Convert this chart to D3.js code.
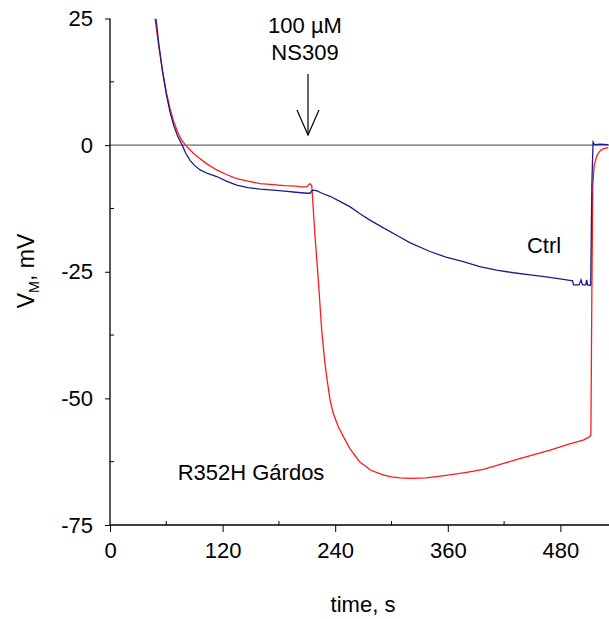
<!DOCTYPE html>
<html><head><meta charset="utf-8">
<script src="https://cdn.jsdelivr.net/npm/d3@7"></script>
<style>body{margin:0;background:#fff}svg{display:block}text{font-family:"Liberation Sans",Arial,sans-serif;fill:#000}</style>
</head><body>
<svg id="chart" width="609" height="619"></svg>
<script>
// Data
const xTicks = [0, 120, 240, 360, 480];
const xMinorTicks = [60, 180, 300, 420];
const yTicks = [25, 0, -25, -50, -75];
const yMinorTicks = [12.5, -12.5, -37.5, -62.5];

const ctrlTime = [49,52,56,60,64,68,72,77,81,85.3,90,96,104,113.7,124,135,147,160,174,186,198,210,213,216,220,226,234.5,245,256,266,277,290,305.5,320,341,358,376.5,394,412,430,447.6,465,483,490,493,494,500,502,503.5,507,508,509,511.5,512.3,513.5,514.8,516,518,522,531];
const ctrlV =    [25,20,14.5,10,6.5,3.8,1.8,0,-1.7,-3,-4,-4.9,-5.6,-6.2,-7.1,-7.9,-8.4,-8.7,-8.9,-9.1,-9.3,-9.5,-9.5,-8.9,-9.0,-9.5,-10.1,-11.1,-12.2,-13.5,-14.8,-16.2,-17.8,-19.3,-21,-22.1,-23,-24,-24.7,-25.2,-25.6,-26,-26.5,-26.7,-26.8,-27.6,-27.6,-26.6,-27.6,-27.6,-26.6,-27.6,-27.7,-27.5,-8,0.6,0.2,0.1,0.2,0.1];

const r352hTime = [48,52,56,60,64,68,72,76,80.5,88.8,96,104,113.7,124,135,147,160,174,186,198,206,210,213,215,218.5,222,225.6,229,231.5,234.5,238,243.3,248.6,256,266,278,291,300,309,320,337,350,362,380,398,415,433,450,469,490,505,510,512.5,513.5,514.5,516,519,522,526,531];
const r352hV =    [25,19.5,14.6,10.5,7.2,4.6,2.6,1.1,0,-1.6,-2.7,-3.8,-4.9,-5.8,-6.6,-7.1,-7.6,-7.8,-8,-8.1,-8.3,-8.2,-7.6,-8,-18,-26.6,-36.5,-43,-46.5,-50.3,-53,-55.6,-57.5,-60,-62.5,-64.2,-65.1,-65.5,-65.7,-65.8,-65.7,-65.4,-65.1,-64.6,-64,-63.1,-62.1,-61.2,-60.2,-59,-58.2,-57.7,-57.3,-30,-8,-4,-2,-1.2,-0.7,-0.5];

const xTitle = "time, s";
const ctrlLabel = "Ctrl";
const mutLabel = "R352H Gárdos";
const drugLine1 = "100 µM";
const drugLine2 = "NS309";
const drugTime = 211;

const svg = d3.select("#chart");
const mLeft = 110, mRight = 609, mTop = 18.5, mBottom = 525;
const x = d3.scaleLinear().domain([0, 531.8]).range([mLeft, mRight]);
const y = d3.scaleLinear().domain([-75, 25]).range([mBottom, mTop]);
const fs = 22;
const fmt = d => String(d).replace("\u2212", "-");

svg.append("defs").append("clipPath").attr("id","clip")
  .append("rect").attr("x", mLeft).attr("y", mTop).attr("width", mRight-mLeft).attr("height", mBottom-mTop);

// zero line
svg.append("line").attr("x1", x(0)).attr("x2", mRight).attr("y1", y(0)).attr("y2", y(0))
  .attr("stroke", "#666").attr("stroke-width", 1.2);

// x axis
const gx = svg.append("g").attr("transform", `translate(0,${mBottom})`);
gx.call(d3.axisBottom(x).tickValues(xTicks).tickSize(7).tickPadding(10).tickFormat(fmt));
gx.append("g").selectAll("line").data(xMinorTicks).join("line")
  .attr("x1", d=>x(d)).attr("x2", d=>x(d)).attr("y1", 0).attr("y2", -4).attr("stroke","#000");
// y axis
const gy = svg.append("g").attr("transform", `translate(${mLeft},0)`);
gy.call(d3.axisLeft(y).tickValues(yTicks).tickSize(5).tickPadding(12).tickFormat(fmt));
gy.append("g").selectAll("line").data(yMinorTicks).join("line")
  .attr("x1", 0).attr("x2", 4).attr("y1", d=>y(d)).attr("y2", d=>y(d)).attr("stroke","#000");
[gx, gy].forEach(g => {
  g.selectAll(".domain").attr("stroke", "#000").attr("stroke-width", 1.3);
  g.selectAll("text").attr("font-size", fs).attr("font-family", "Liberation Sans, Arial, sans-serif");
});
gx.select(".domain").attr("d", `M${mLeft},0H${mRight}`);
gy.select(".domain").attr("d", `M0,${mTop}V${mBottom}`);

// lines
const line = d3.line().x(d=>x(d[0])).y(d=>y(d[1]));
const plot = svg.append("g").attr("clip-path", "url(#clip)");
plot.append("path").datum(r352hTime.map((t,i)=>[t, r352hV[i]]))
  .attr("d", line).attr("fill","none").attr("stroke","#ff1a1a").attr("stroke-width",1.3);
plot.append("path").datum(ctrlTime.map((t,i)=>[t, ctrlV[i]]))
  .attr("d", line).attr("fill","none").attr("stroke","#1c1c8c").attr("stroke-width",1.3);

// arrow annotation
const ax = x(drugTime);
svg.append("line").attr("x1", ax).attr("x2", ax).attr("y1", 74).attr("y2", 135).attr("stroke","#000").attr("stroke-width",1.2);
svg.append("path").attr("d", `M${ax-11},110L${ax},135L${ax+11},110`).attr("fill","none").attr("stroke","#000").attr("stroke-width",1.2);
svg.append("text").attr("x", ax-3).attr("y", 33).attr("text-anchor","middle").attr("font-size", fs).text(drugLine1);
svg.append("text").attr("x", ax-3).attr("y", 60).attr("text-anchor","middle").attr("font-size", fs).text(drugLine2);

// labels
svg.append("text").attr("x", 544).attr("y", 253).attr("text-anchor","middle").attr("font-size", fs).text(ctrlLabel);
svg.append("text").attr("x", 251).attr("y", 480).attr("text-anchor","middle").attr("font-size", fs).text(mutLabel);
svg.append("text").attr("x", 363).attr("y", 612).attr("text-anchor","middle").attr("font-size", fs).text(xTitle);

const yfs = 23;
const yt = svg.append("text").attr("transform", "translate(34,271) rotate(-90)").attr("text-anchor","middle").attr("font-size", yfs);
yt.append("tspan").text("V");
yt.append("tspan").attr("font-size", yfs*0.62).attr("dy", 5).text("M");
yt.append("tspan").attr("dy", -5).text(", mV");
</script>
</body></html>
